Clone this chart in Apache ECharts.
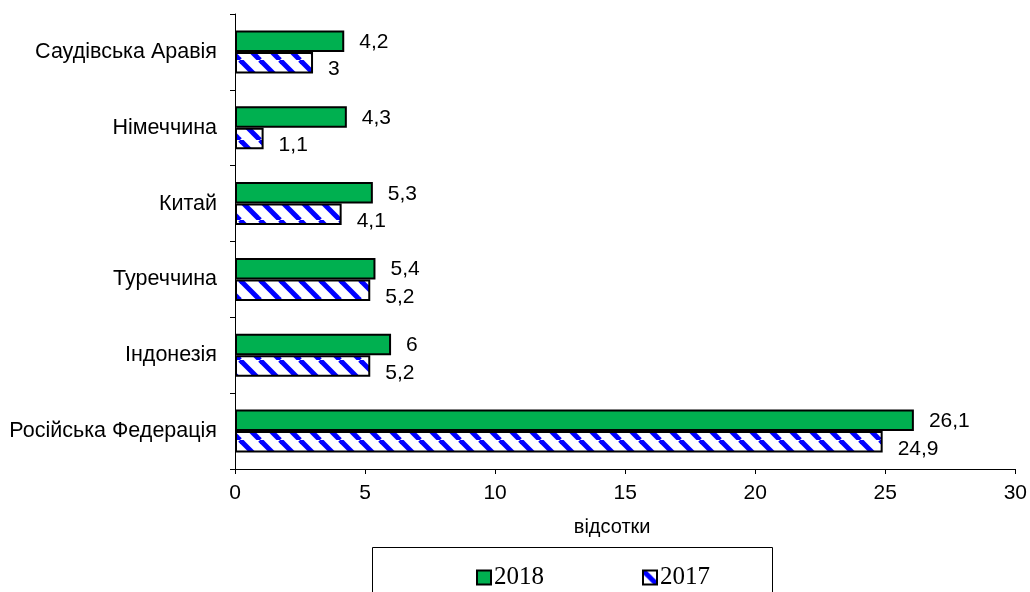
<!DOCTYPE html>
<html>
<head>
<meta charset="utf-8">
<script src="https://cdn.jsdelivr.net/npm/echarts@6/dist/echarts.min.js"></script>
<style>
html,body{margin:0;padding:0;background:#fff;}
#chart{width:1030px;height:592px;}
</style>
</head>
<body>
<div id="chart"></div>
<script>
var categories = ['Російська Федерація','Індонезія','Туреччина','Китай','Німеччина','Саудівська Аравія'];
var values2018 = [26.1, 6, 5.4, 5.3, 4.3, 4.2];
var values2017 = [24.9, 5.2, 5.2, 4.1, 1.1, 3];
var seriesNames = ['2018', '2017'];
var xTicks = {min: 0, max: 30, interval: 5};

function makePattern() {
  var c = document.createElement('canvas');
  c.width = 20; c.height = 20;
  var ctx = c.getContext('2d');
  ctx.fillStyle = '#ffffff';
  ctx.fillRect(0, 0, 20, 20);
  ctx.strokeStyle = '#0000ff';
  ctx.lineWidth = 5;
  [-20, 0, 20].forEach(function (k) {
    ctx.beginPath();
    ctx.moveTo(k, 0);
    ctx.lineTo(k + 20, 20);
    ctx.stroke();
  });
  return c;
}

function fmt(p) { return String(p.value).replace('.', ','); }

var chart = echarts.init(document.getElementById('chart'));
var font = 'Liberation Sans, Arial, sans-serif';
chart.setOption({
  animation: false,
  grid: {left: 235, right: 14, top: 14, bottom: 123, containLabel: false},
  xAxis: {
    type: 'value',
    min: xTicks.min, max: xTicks.max, interval: xTicks.interval,
    axisLine: {show: true, lineStyle: {color: '#000', width: 1}},
    axisTick: {show: true, length: 5, lineStyle: {color: '#000'}},
    splitLine: {show: false},
    axisLabel: {color: '#000', fontSize: 21, fontFamily: font, margin: 14},
    name: 'відсотки',
    nameLocation: 'middle',
    nameGap: 48,
    nameTextStyle: {color: '#000', fontSize: 20, fontFamily: font, padding: [0, 26, 0, 0]}
  },
  yAxis: {
    type: 'category',
    data: categories,
    axisLine: {show: true, lineStyle: {color: '#000', width: 1}},
    axisTick: {show: true, length: 5, lineStyle: {color: '#000'}},
    axisLabel: {color: '#000', fontSize: 21.5, fontFamily: font, margin: 18}
  },
  legend: {
    data: seriesNames,
    left: 471, top: 560,
    itemWidth: 14, itemHeight: 14,
    itemGap: 98,
    textStyle: {color: '#000', fontSize: 25, fontFamily: 'Liberation Serif, Times New Roman, serif', padding: [0,0,0,-2]},
    icon: 'rect'
  },
  graphic: [{
    type: 'rect',
    shape: {x: 372.5, y: 547.5, width: 400, height: 60},
    style: {fill: 'none', stroke: '#000', lineWidth: 1},
    silent: true
  }],
  series: [
    {
      name: seriesNames[0], type: 'bar', data: values2018,
      barWidth: 21.5, barGap: '0%',
      itemStyle: {color: '#00b050', borderColor: '#000', borderWidth: 2},
      label: {show: true, position: 'right', distance: 15, offset: [0, 1], color: '#000', fontSize: 21, fontFamily: font, formatter: fmt}
    },
    {
      name: seriesNames[1], type: 'bar', data: values2017,
      barWidth: 21.5, barGap: '0%',
      itemStyle: {color: {image: makePattern(), repeat: 'repeat'}, borderColor: '#000', borderWidth: 2},
      label: {show: true, position: 'right', distance: 15, offset: [0, 7], color: '#000', fontSize: 21, fontFamily: font, formatter: fmt}
    }
  ]
});
</script>
</body>
</html>
